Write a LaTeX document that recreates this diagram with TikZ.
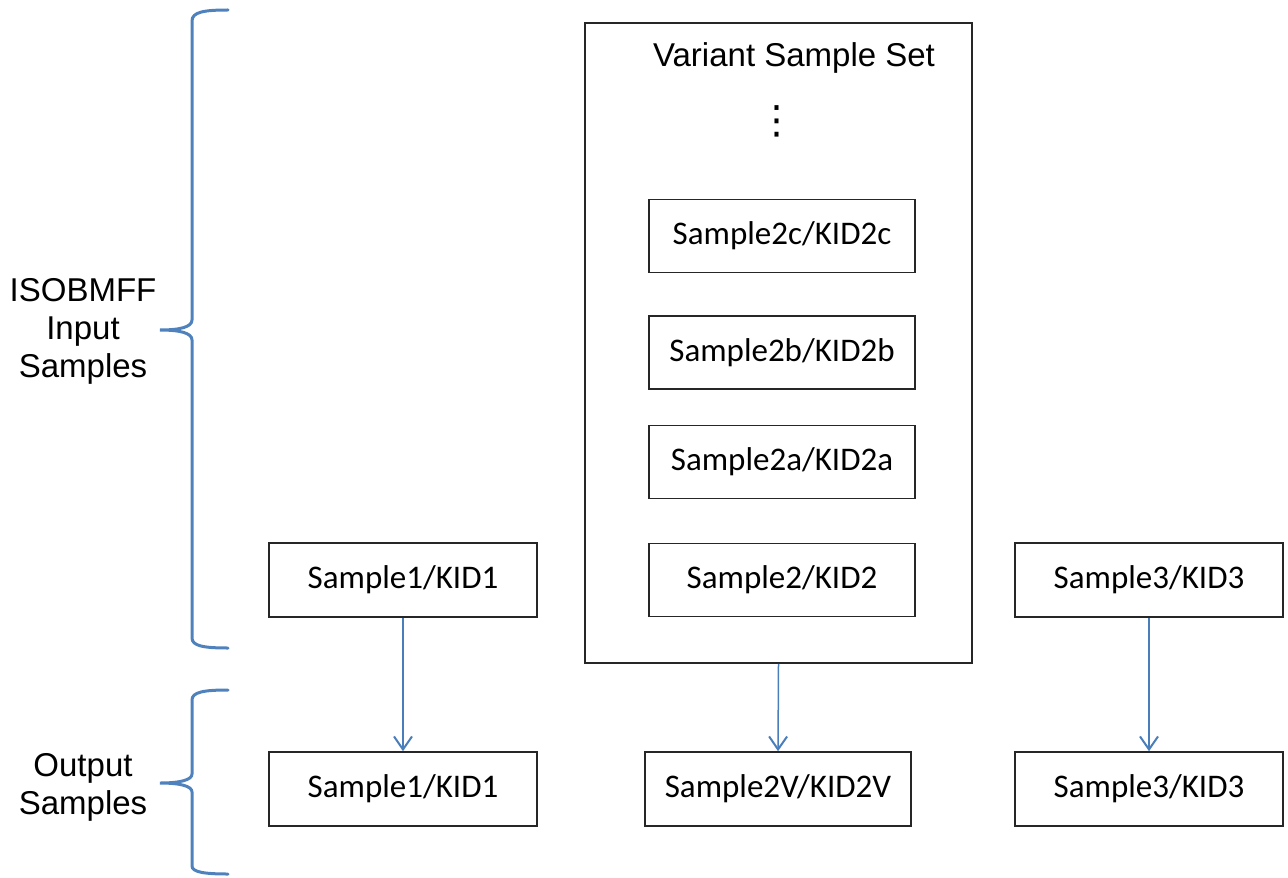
\documentclass[tikz,border=0pt]{standalone}
\usepackage{fontspec}
\setmainfont{Carlito}
\newfontfamily\arialfont{Liberation Sans}
\newfontfamily\symfont{DejaVu Sans}
\usepackage{xcolor}
\usepackage{tikz}
\usetikzlibrary{arrows.meta}

\definecolor{braceblue}{HTML}{4F81BD}
\definecolor{arrowblue}{HTML}{4A7EBB}

\begin{document}
\begin{tikzpicture}[x=0.5pt, y=-0.5pt,
    sbox/.style={draw=black!85, line width=0.8pt, inner sep=0pt,
        minimum width=134pt, minimum height=37pt,
        font=\fontsize{16.5}{19}\selectfont},
    vbox/.style={sbox, minimum width=133pt, minimum height=36.5pt},
    sidelabel/.style={align=center, font=\arialfont\fontsize{16.5}{19}\selectfont},
    brace/.style={braceblue, line width=1.5pt, line cap=round},
    flow/.style={arrowblue, line width=0.75pt,
        -{Straight Barb[length=6.5pt, width=9pt, line width=1pt]}}]
    \useasboundingbox (0,0) rectangle (1288,877);

    % variant sample set container
    \node [draw=black!85, line width=0.8pt, minimum width=193.5pt, minimum height=320pt,
        inner sep=0pt] (vset) at (778.5,343) {};
    \node [anchor=base, font=\arialfont\fontsize{16.5}{19}\selectfont] (vtitle) at (794,67) {Variant Sample Set};
    \node [font=\symfont\fontsize{19.5}{20}\selectfont, inner sep=0pt] (vdots) at (777,121) {⋮};

    \node [vbox] (s2c) at (782,236) {Sample2c/KID2c};
    \node [vbox] (s2b) at (782,352.5) {Sample2b/KID2b};
    \node [vbox] (s2a) at (782,462) {Sample2a/KID2a};
    \node [vbox] (s2) at (782,580) {Sample2/KID2};

    % input samples
    \node [sbox] (s1in) at (403,580) {Sample1/KID1};
    \node [sbox] (s3in) at (1149,580) {Sample3/KID3};

    % output samples
    \node [sbox] (s1out) at (403,789) {Sample1/KID1};
    \node [sbox, minimum width=133pt] (s2out) at (778,789) {Sample2V/KID2V};
    \node [sbox] (s3out) at (1149,789) {Sample3/KID3};

    \draw [flow] (s1in.south) -- (s1out.north);
    \draw [flow] (vset.south) -- (s2out.north);
    \draw [flow] (s3in.south) -- (s3out.north);

    % braces on the left
    \draw [brace] (228,10) .. controls (204,10) and (192,12) .. (192,21) -- (192,320)
        .. controls (192,327) and (180,330) .. (160,330)
        .. controls (180,330) and (192,333) .. (192,340) -- (192,638)
        .. controls (192,646) and (204,648) .. (228,648);
    \draw [brace] (228,690) .. controls (204,690) and (192,692) .. (192,700) -- (192,774)
        .. controls (192,780) and (180,783) .. (160,783)
        .. controls (180,783) and (192,786) .. (192,792) -- (192,866)
        .. controls (192,872) and (204,874) .. (228,874);

    \node [sidelabel] (inlabel) at (83,331) {ISOBMFF\\Input\\Samples};
    \node [sidelabel] (outlabel) at (83,787) {Output\\Samples};
\end{tikzpicture}
\end{document}
